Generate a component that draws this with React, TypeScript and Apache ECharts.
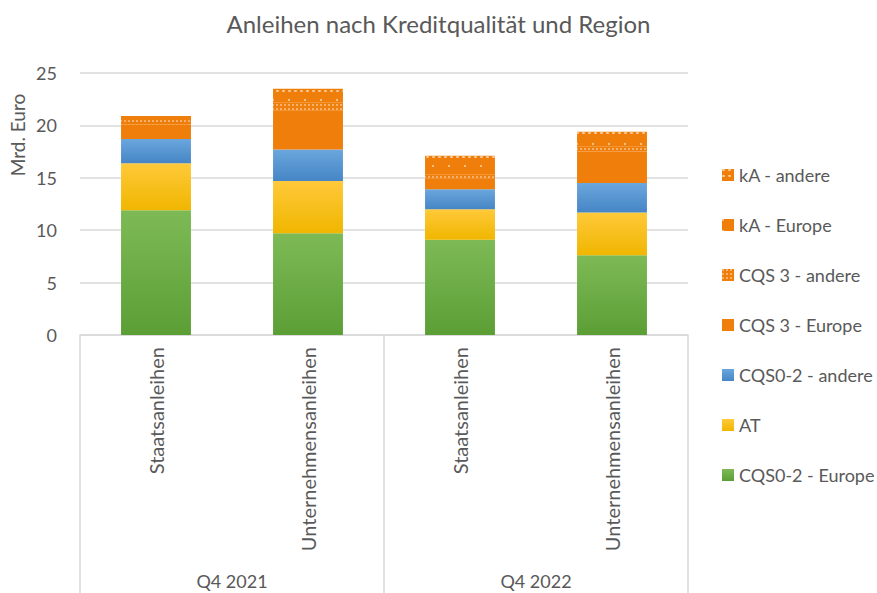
import React, { useEffect, useRef } from "react";
import * as echarts from "echarts";

const categories = ["Staatsanleihen", "Unternehmensanleihen", "Staatsanleihen", "Unternehmensanleihen"];
const groups = ["Q4 2021", "Q4 2022"];
const cqs02Europe = [11.9, 9.7, 9.1, 7.6];
const at = [4.5, 5.0, 2.9, 4.1];
const cqs02Andere = [2.3, 3.0, 1.9, 2.8];
const cqs3Europe = [1.4, 3.7, 1.0, 3.0];
const cqs3Andere = [0.5, 0.8, 0.4, 0.5];
const kaEurope = [0.1, 0.6, 1.3, 1.0];
const kaAndere = [0.2, 0.7, 0.5, 0.4];
const yTicks = [0, 5, 10, 15, 20, 25];

const FONT = "Lato, 'Noto Sans', sans-serif";
const TXT = "#595959";
const ORANGE = "#EF7F0A";

const grad = (top: string, bottom: string) =>
  new echarts.graphic.LinearGradient(0, 0, 0, 1, [
    { offset: 0, color: top },
    { offset: 1, color: bottom },
  ]);

export default function App() {
  const ref = useRef<HTMLDivElement>(null);
  useEffect(() => {
    if (!ref.current) return;
    const chart = echarts.init(ref.current, undefined, { renderer: "svg" });
    const mk = (name: string, data: number[], itemStyle: any) => ({
      name,
      type: "bar",
      stack: "s",
      data,
      barWidth: "46%",
      xAxisIndex: 0,
      itemStyle,
      emphasis: { disabled: true },
    });
    chart.setOption({
      animation: false,
      textStyle: { fontFamily: FONT },
      title: {
        text: "Anleihen nach Kreditqualität und Region",
        left: "center",
        top: 6,
        textStyle: { fontFamily: FONT, fontSize: 24, fontWeight: "normal", color: TXT },
      },
      graphic: [
        {
          type: "text",
          x: 17,
          y: 135,
          rotation: Math.PI / 2,
          style: {
            text: "Mrd. Euro",
            fontFamily: FONT,
            fontSize: 19,
            fill: TXT,
            align: "center",
            verticalAlign: "middle",
          },
        },
      ],
      legend: {
        orient: "vertical",
        left: 717,
        top: 160,
        itemWidth: 12,
        itemHeight: 12,
        itemGap: 30,
        icon: "rect",
        textStyle: { fontFamily: FONT, fontSize: 18, color: TXT, lineHeight: 20 },
        data: [
          "kA - andere",
          "kA - Europe",
          "CQS 3 - andere",
          "CQS 3 - Europe",
          "CQS0-2 - andere",
          "AT",
          "CQS0-2 - Europe",
        ],
      },
      grid: { left: 80, right: 189, top: 73, bottom: 258 },
      xAxis: [
        {
          type: "category",
          data: categories,
          axisLine: { show: true, lineStyle: { color: "#d9d9d9", width: 1.5 } },
          axisTick: { show: false },
          axisLabel: { rotate: 90, margin: 12, fontFamily: FONT, fontSize: 20, color: TXT, interval: 0 },
        },
        {
          type: "category",
          data: groups,
          position: "bottom",
          offset: 258,
          axisLine: { show: false },
          axisTick: { show: true, inside: true, length: 258, lineStyle: { color: "#d9d9d9", width: 1.5 } },
          axisLabel: { inside: true, margin: 3, fontFamily: FONT, fontSize: 18, color: TXT },
          splitLine: { show: false },
        },
      ],
      yAxis: {
        type: "value",
        min: yTicks[0],
        max: yTicks[yTicks.length - 1],
        interval: 5,
        axisLine: { show: false },
        axisTick: { show: false },
        axisLabel: { margin: 23, fontFamily: FONT, fontSize: 18, color: TXT },
        splitLine: { lineStyle: { color: "#d9d9d9", width: 1.5 } },
      },
      series: [
        mk("CQS0-2 - Europe", cqs02Europe, { color: grad("#7dba55", "#5c9e36") }),
        mk("AT", at, { color: grad("#ffc93a", "#f0b600") }),
        mk("CQS0-2 - andere", cqs02Andere, { color: grad("#6ba6dd", "#4686c6") }),
        mk("CQS 3 - Europe", cqs3Europe, { color: ORANGE }),
        mk("CQS 3 - andere", cqs3Andere, {
          color: ORANGE,
          decal: {
            symbol: "rect",
            symbolSize: 0.7,
            color: "rgba(255,255,255,0.75)",
            dashArrayX: [2, 2],
            dashArrayY: [2, 2],
            rotation: 0,
          },
        }),
        mk("kA - Europe", kaEurope, {
          color: ORANGE,
          decal: {
            symbol: "rect",
            symbolSize: 0.8,
            color: "rgba(255,255,255,0.85)",
            dashArrayX: [2, 14],
            dashArrayY: [2, 9],
            rotation: 0,
          },
        }),
        mk("kA - andere", kaAndere, {
          color: ORANGE,
          decal: {
            symbol: "rect",
            symbolSize: 0.8,
            color: "rgba(255,255,255,0.8)",
            dashArrayX: [3, 3],
            dashArrayY: [2, 4],
            rotation: 0,
          },
        }),
      ],
    });
    return () => chart.dispose();
  }, []);
  return (
    <div
      ref={ref}
      style={{ position: "absolute", left: 0, top: 0, width: 877, height: 593, background: "#fff" }}
    />
  );
}
